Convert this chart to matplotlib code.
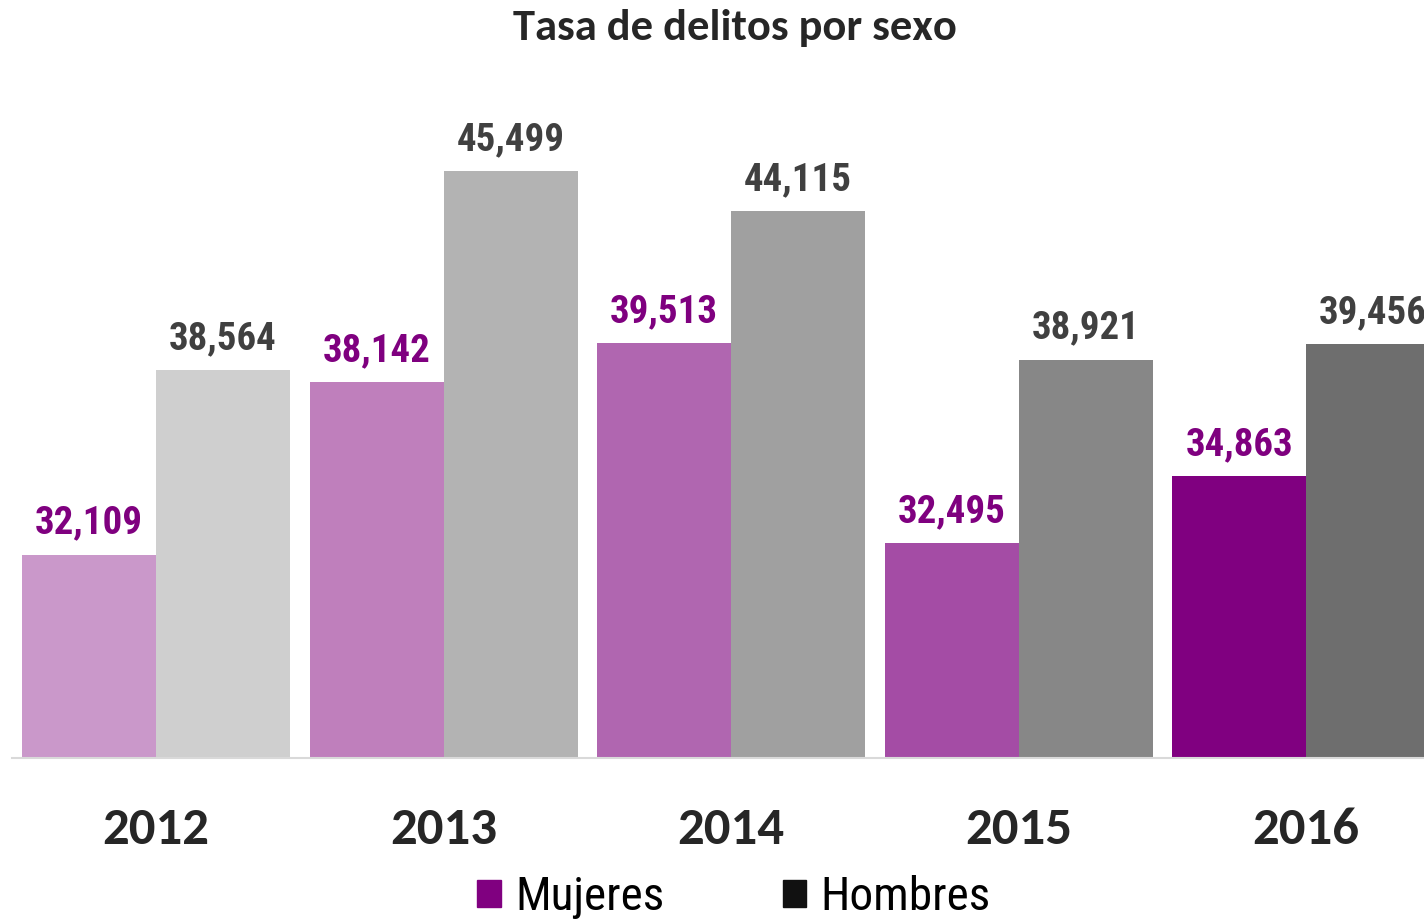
import matplotlib
matplotlib.use("Agg")
import matplotlib.pyplot as plt
import numpy as np
from matplotlib.patches import Patch

years = ['2012', '2013', '2014', '2015', '2016']
mujeres = [32109, 38142, 39513, 32495, 34863]
hombres = [38564, 45499, 44115, 38921, 39456]

col_m = ['#CA98CA', '#BF7FBC', '#B066B0', '#A44CA5', '#800080']
col_h = ['#CFCFCF', '#B3B3B3', '#A0A0A0', '#878787', '#6E6E6E']

narrow = ['Roboto Condensed', 'DejaVu Sans']
calib = ['Carlito', 'DejaVu Sans']

fig = plt.figure(figsize=(14.24, 9.24), dpi=100)
W, H = 1424, 924
ax = fig.add_axes([12 / W, 1 - 758 / H, (W - 12) / W, (758 - 60) / H])

x = np.arange(len(years))
w = 0.466
ax.bar(x - w / 2, np.array(mujeres) - 25000, w, bottom=25000, color=col_m, linewidth=0)
ax.bar(x + w / 2, np.array(hombres) - 25000, w, bottom=25000, color=col_h, linewidth=0)

for i in range(len(years)):
    ax.annotate(f'{mujeres[i]:,}', (x[i] - w / 2, mujeres[i]), xytext=(0, 15),
                textcoords='offset points', ha='center', va='baseline',
                fontsize=28, fontweight='bold', family=narrow, color='#7F007F',
                annotation_clip=False)
    ax.annotate(f'{hombres[i]:,}', (x[i] + w / 2, hombres[i]), xytext=(0, 15),
                textcoords='offset points', ha='center', va='baseline',
                fontsize=28, fontweight='bold', family=narrow, color='#404040',
                annotation_clip=False)

ax.set_xlim(-0.501, 4.41)
ax.set_ylim(25000, 49389)
for s in ['top', 'right', 'left']:
    ax.spines[s].set_visible(False)
ax.spines['bottom'].set_color('#D9D9D9')
ax.spines['bottom'].set_linewidth(1.5)
ax.set_yticks([])
ax.set_xticks(x)
ax.set_xticklabels(years, fontsize=38, fontweight='bold', family=calib, color='#262626')
ax.tick_params(axis='x', length=0, pad=35)

fig.text(735 / W, 1 - 28 / H, 'Tasa de delitos por sexo', ha='center', va='center',
         fontsize=32, fontweight='bold', family=calib, color='#262626')

handles = [Patch(color='#800080'), Patch(color='#111111')]
fig.legend(handles, ['Mujeres', 'Hombres'], loc='center', bbox_to_anchor=(734 / W, 1 - 897 / H),
           ncol=2, frameon=False, prop={'family': narrow, 'size': 34},
           handlelength=0.5, handleheight=0.5, handletextpad=0.3, columnspacing=2.5,
           borderpad=0, borderaxespad=0)

fig.savefig('out.png', dpi=100)
